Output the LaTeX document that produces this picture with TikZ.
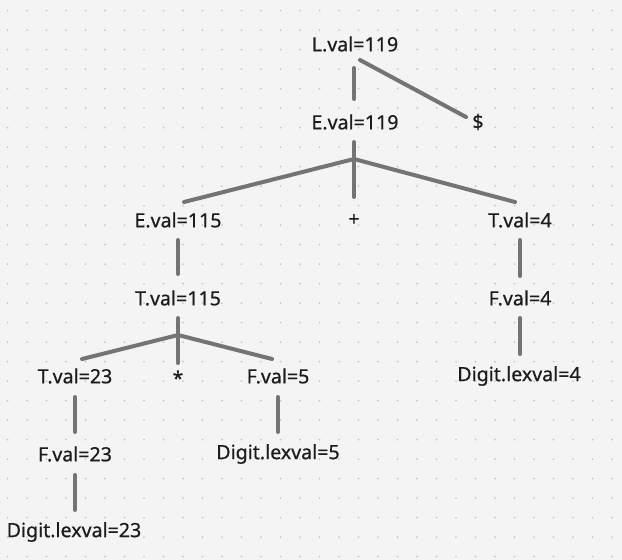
\documentclass[tikz,border=0pt]{standalone}
\usepackage{fontspec}
\setmainfont{Noto Sans}[FakeBold=0.6]
\usetikzlibrary{calc}
\definecolor{bg}{HTML}{F4F4F4}
\definecolor{dotc}{HTML}{C6C6C6}
\definecolor{edgec}{HTML}{747474}
\definecolor{txt}{HTML}{1C1C1C}
\begin{document}
\begin{tikzpicture}[x=1pt,y=-1pt,
  lbl/.style={inner sep=0pt,text=txt,font=\fontsize{19.6}{22}\selectfont,anchor=center},
  edge/.style={draw=edgec,line width=4pt,line cap=round}]
\fill[bg] (0,0) rectangle (622,560);
\useasboundingbox (0,0) rectangle (622,560);
\foreach \i in {0,...,31}{\foreach \j in {0,...,28}{
  \fill[dotc] ({7.5+19.5*\i},{10.5+19.5*\j}) circle (1pt);}}
% nodes
\node[lbl] (L) at (355,44) {L.val=119};
\node[lbl] (E1) at (355,122) {E.val=119};
\node[lbl] (D) at (478,122) {\$};
\node[lbl] (E2) at (178,220) {E.val=115};
\node[lbl] (P) at (354,220) {+};
\node[lbl] (T4) at (520,220) {T.val=4};
\node[lbl] (T115) at (178,298) {T.val=115};
\node[lbl] (F4) at (520,298) {F.val=4};
\node[lbl] (T23) at (75,376) {T.val=23};
\node[lbl] (S) at (178,378) {*};
\node[lbl] (F5) at (278,376) {F.val=5};
\node[lbl] (G4) at (519,376) {Digit.lexval=4};
\node[lbl] (F23) at (75,454) {F.val=23};
\node[lbl] (G5) at (278,454) {Digit.lexval=5};
\node[lbl] (G23) at (74,532) {Digit.lexval=23};
% junctions
\coordinate (jL) at ($(L.center)+(5,16)$);
\coordinate (jE) at ($(E1.center)+(-1,37)$);
\coordinate (jT) at ($(T115.center)+(0,37)$);
% edges
\draw[edge] ($(L.center)+(-1,24)$) -- ($(E1.center)+(-1,-23)$);
\draw[edge] (jL) -- ($(D.center)+(-12,-5)$);
\draw[edge] ($(E1.center)+(-1,20)$) -- ($(P.center)+(0,-23)$);
\draw[edge] (jE) -- ($(E2.center)+(6,-18)$);
\draw[edge] (jE) -- ($(T4.center)+(-5,-18)$);
\draw[edge] ($(E2.center)+(0,20)$) -- ($(T115.center)+(0,-24)$);
\draw[edge] ($(T115.center)+(0,20)$) -- ($(S.center)+(0,-15)$);
\draw[edge] (jT) -- ($(T23.center)+(7,-17)$);
\draw[edge] (jT) -- ($(F5.center)+(-6,-17)$);
\draw[edge] ($(T4.center)+(0,20)$) -- ($(F4.center)+(0,-22)$);
\draw[edge] ($(F4.center)+(0,20)$) -- ($(G4.center)+(1,-22)$);
\draw[edge] ($(T23.center)+(0,21)$) -- ($(F23.center)+(0,-22)$);
\draw[edge] ($(F5.center)+(0,21)$) -- ($(G5.center)+(0,-22)$);
\draw[edge] ($(F23.center)+(0,21)$) -- ($(G23.center)+(1,-22)$);
\end{tikzpicture}
\end{document}
